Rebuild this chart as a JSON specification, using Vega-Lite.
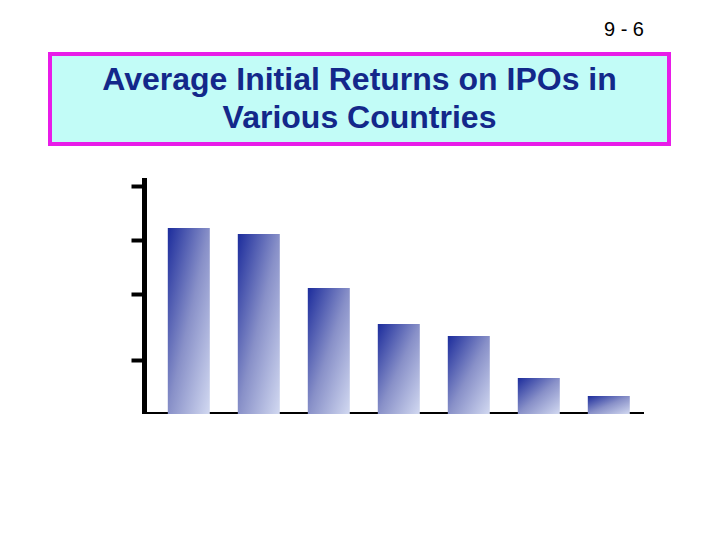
{
  "$schema": "https://vega.github.io/schema/vega-lite/v6.json",
  "padding": {"top": 18, "left": 48, "right": 0, "bottom": 0},
  "background": "white",
  "config": {
    "font": "Liberation Sans",
    "concat": {"spacing": 34}
  },
  "vconcat": [
    {
      "width": 619, "height": 90,
      "view": {"fill": "#c2fcf7", "stroke": "#e81ce8", "strokeWidth": 4},
      "title": {
        "text": "9 - 6", "anchor": "end", "fontSize": 20, "fontWeight": "normal",
        "font": "Liberation Sans", "color": "#000000", "dx": -25, "offset": 14
      },
      "data": {"values": [{"heading": "Average Initial Returns on IPOs in\nVarious Countries"}]},
      "mark": {
        "type": "text", "lineBreak": "\n", "lineHeight": 38, "dy": -19,
        "font": "Liberation Sans", "fontSize": 32, "fontWeight": "bold",
        "color": "#13288a", "align": "center", "baseline": "middle"
      },
      "encoding": {"text": {"field": "heading", "type": "nominal"}}
    },
    {
      "width": 619, "height": 234,
      "view": {"stroke": null},
      "data": {"values": [
        {"rank": 1, "initial_return": 31},
        {"rank": 2, "initial_return": 30},
        {"rank": 3, "initial_return": 21},
        {"rank": 4, "initial_return": 15},
        {"rank": 5, "initial_return": 13},
        {"rank": 6, "initial_return": 6},
        {"rank": 7, "initial_return": 3}
      ]},
      "mark": {
        "type": "bar",
        "fill": {
          "gradient": "linear", "x1": 0, "y1": 0, "x2": 1, "y2": 1,
          "stops": [
            {"offset": 0, "color": "#1c2c9c"},
            {"offset": 0.5, "color": "#8890c8"},
            {"offset": 1, "color": "#d2d9f1"}
          ]
        }
      },
      "encoding": {
        "x": {
          "field": "rank", "type": "ordinal",
          "scale": {"range": [94, 591], "paddingInner": 0.4, "paddingOuter": 0.25, "align": 0.68},
          "axis": {
            "title": null, "labels": false, "ticks": false,
            "domainColor": "#000000", "domainWidth": 5, "domainCap": "square"
          }
        },
        "y": {
          "field": "initial_return", "type": "quantitative",
          "scale": {"domain": [0, 39], "nice": false},
          "axis": {
            "title": null, "labels": false, "grid": false, "offset": -94,
            "values": [9, 20, 29, 38],
            "domainColor": "#000000", "domainWidth": 5, "domainCap": "square",
            "tickColor": "#000000", "tickWidth": 4, "tickSize": 13
          }
        }
      }
    }
  ]
}
